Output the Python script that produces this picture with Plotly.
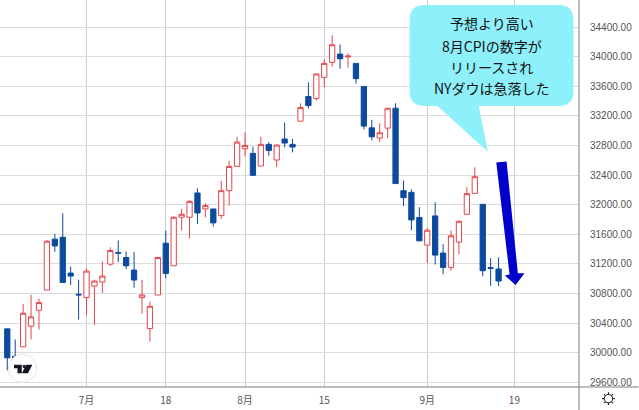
import math
import plotly.graph_objects as go

W, H = 639, 410
L_PLOT, B_PLOT = 579.5, 386.7

index = list(range(63))
opens = [30321,29950,30078,30357,30572,30846,31533,31560,31075,30788,30743,30900,30954,31196,31354,31286,31116,30743,30325,30779,31479,31174,31830,31830,32158,31942,31942,31852,32189,32518,32756,32693,32523,32815,32604,32887,32815,33129,33461,33434,33722,33924,34036,33996,33910,33596,33039,32900,33035,33304,32189,32167,31826,31453,31848,31345,31152,31493,31870,32153,32005,31148,31130]
highs = [30321,30177,30658,30783,30729,31525,31605,31883,31165,30985,31138,30985,31232,31425,31515,31367,31363,30985,30689,31286,31650,31840,31942,32060,32221,32023,31942,32324,32593,32918,32976,32783,32918,32846,32815,33111,32887,33371,33654,33772,33964,34292,34166,34045,33910,33596,33147,33102,33304,33371,32324,32207,31965,31682,32032,31466,31650,31785,32234,32504,32005,31278,31287]
lows = [29760,29700,30078,30177,30312,30846,31363,30949,30914,30447,30505,30370,30806,31174,31223,31129,30878,30527,30150,30779,31003,31174,31650,31542,31740,31830,31704,31808,31987,32510,32653,32397,32523,32662,32505,32774,32707,33129,33300,33407,33587,33865,33838,33852,33636,33017,32869,32846,32900,32285,31983,31655,31511,31210,31192,31058,31107,31332,31870,32153,31031,30901,30901]
closes = [29930,29800,30532,30483,30676,31506,31443,30949,31035,30780,31102,30967,31035,31380,31345,31174,30981,30779,30626,31286,31071,31830,31870,32045,31888,31987,31754,32189,32517,32846,32801,32397,32815,32734,32806,32833,32779,33313,33340,33767,33910,34162,33973,34009,33704,33062,32918,32972,33304,32285,32095,31794,31511,31655,31318,31152,31579,31776,32149,32378,31107,31140,30968]

x_tick_pos = [10, 20, 30, 40, 53, 64]
x_tick_text = ["7月", "18", "8月", "15", "9月", "19"]
y_ticks = [29600, 30000, 30400, 30800, 31200, 31600, 32000, 32400, 32800, 33200, 33600, 34000, 34400]
note_lines = ["予想より高い", "8月CPIの数字が", "リリースされ", "NYダウは急落した"]

UP = "#E0474C"
DOWN = "#0B4A9E"


def px(x):
    return x / L_PLOT


def py(y):
    return 1 - y / B_PLOT


def path(points):
    return "M " + " L ".join(f"{px(a):.5f},{py(b):.5f}" for a, b in points) + " Z"


fig = go.Figure(go.Candlestick(
    x=index, open=opens, high=highs, low=lows, close=closes,
    increasing=dict(line=dict(color=UP, width=1), fillcolor="white"),
    decreasing=dict(line=dict(color=DOWN, width=1), fillcolor=DOWN),
    whiskerwidth=0, showlegend=False, hoverinfo="skip",
))

shapes = []
shapes.append(dict(type="line", xref="paper", yref="paper", x0=0, x1=px(W), y0=py(B_PLOT), y1=py(B_PLOT),
                   line=dict(color="#7d7d7d", width=1)))
shapes.append(dict(type="line", xref="paper", yref="paper", x0=1, x1=1, y0=py(0), y1=py(H),
                   line=dict(color="#7d7d7d", width=1)))
r = 15
a, b, c, d = 410, 574, 5, 106
rect = (f"M {px(a+r)},{py(c)} L {px(b-r)},{py(c)} Q {px(b)},{py(c)} {px(b)},{py(c+r)} "
        f"L {px(b)},{py(d-r)} Q {px(b)},{py(d)} {px(b-r)},{py(d)} L {px(a+r)},{py(d)} "
        f"Q {px(a)},{py(d)} {px(a)},{py(d-r)} L {px(a)},{py(c+r)} Q {px(a)},{py(c)} {px(a+r)},{py(c)} Z")
for p in (rect, path([(436.7, 105), (488.3, 151.7), (479, 105)])):
    shapes.append(dict(type="path", xref="paper", yref="paper", path=p, fillcolor="#8DF0FB", line=dict(width=0)))
shapes.append(dict(type="path", xref="paper", yref="paper", fillcolor="#0000CD", line=dict(width=0),
                   path=path([(496.7, 162.3), (507, 161.3), (518.3, 273), (525, 273), (516, 284.7), (505.3, 275.3), (510, 274.3)])))
# logo
shapes.append(dict(type="circle", xref="paper", yref="paper", x0=px(8.5), x1=px(36.5), y0=py(354), y1=py(382),
                   fillcolor="white", line=dict(color="#e6e6e6", width=1)))
logo = "#131722"
shapes.append(dict(type="path", xref="paper", yref="paper", fillcolor=logo, line=dict(width=0),
                   path=path([(14, 364.5), (21.8, 364.5), (21.8, 373), (17.5, 373), (17.5, 368), (14, 368)])))
shapes.append(dict(type="path", xref="paper", yref="paper", fillcolor=logo, line=dict(width=0),
                   path=path([(26.2, 364.5), (32.4, 364.5), (28, 373), (21.9, 373)])))
shapes.append(dict(type="circle", xref="paper", yref="paper", x0=px(22.6), x1=px(25.8), y0=py(364.5), y1=py(367.7),
                   fillcolor=logo, line=dict(width=0)))
# settings gear
gx, gy = 609, 398.3
shapes.append(dict(type="circle", xref="paper", yref="paper", x0=px(gx - 4.2), x1=px(gx + 4.2), y0=py(gy - 4.2), y1=py(gy + 4.2),
                   fillcolor="white", line=dict(color="#222222", width=1)))
for k in range(8):
    t = k * math.pi / 4
    shapes.append(dict(type="line", xref="paper", yref="paper",
                       x0=px(gx + 4.2 * math.cos(t)), x1=px(gx + 6.4 * math.cos(t)),
                       y0=py(gy + 4.2 * math.sin(t)), y1=py(gy + 6.4 * math.sin(t)),
                       line=dict(color="#222222", width=1.2)))
fig.update_layout(shapes=shapes)

annotations = []
for text, yy in zip(note_lines, [23, 46, 67, 88]):
    annotations.append(dict(text=text, xref="paper", yref="paper", x=px(492), y=py(yy), showarrow=False,
                            xanchor="center", yanchor="middle",
                            font=dict(family="Noto Sans CJK JP", size=14, color="#111111")))
fig.update_layout(annotations=annotations)

fig.update_layout(
    width=W, height=H, margin=dict(l=0, r=W - L_PLOT, t=0, b=H - B_PLOT, pad=0),
    paper_bgcolor="white", plot_bgcolor="white", showlegend=False, boxgap=0.05, boxgroupgap=0.3,
    font=dict(family="Noto Sans CJK JP, Liberation Sans", color="#555555", size=10),
    xaxis=dict(type="linear", range=[-0.92, 72.15], tickmode="array", tickvals=x_tick_pos, ticktext=x_tick_text,
               showgrid=True, gridcolor="#cfcfcf", gridwidth=1, zeroline=False, showline=False,
               ticks="outside", ticklen=4, tickcolor="rgba(0,0,0,0)", rangeslider=dict(visible=False),
               tickfont=dict(size=10, color="#555555")),
    yaxis=dict(side="right", range=[29535, 34767], tickmode="array", tickvals=y_ticks, tickformat=".2f",
               showgrid=True, gridcolor="#dcdcdc", gridwidth=1.2, zeroline=False, showline=False,
               ticks="outside", ticklen=8, tickcolor="rgba(0,0,0,0)",
               tickfont=dict(family="Liberation Sans", size=10, color="#555555")),
)

fig.write_html("out.html", config=dict(displayModeBar=False),
               post_script="document.body.style.margin='0';")
